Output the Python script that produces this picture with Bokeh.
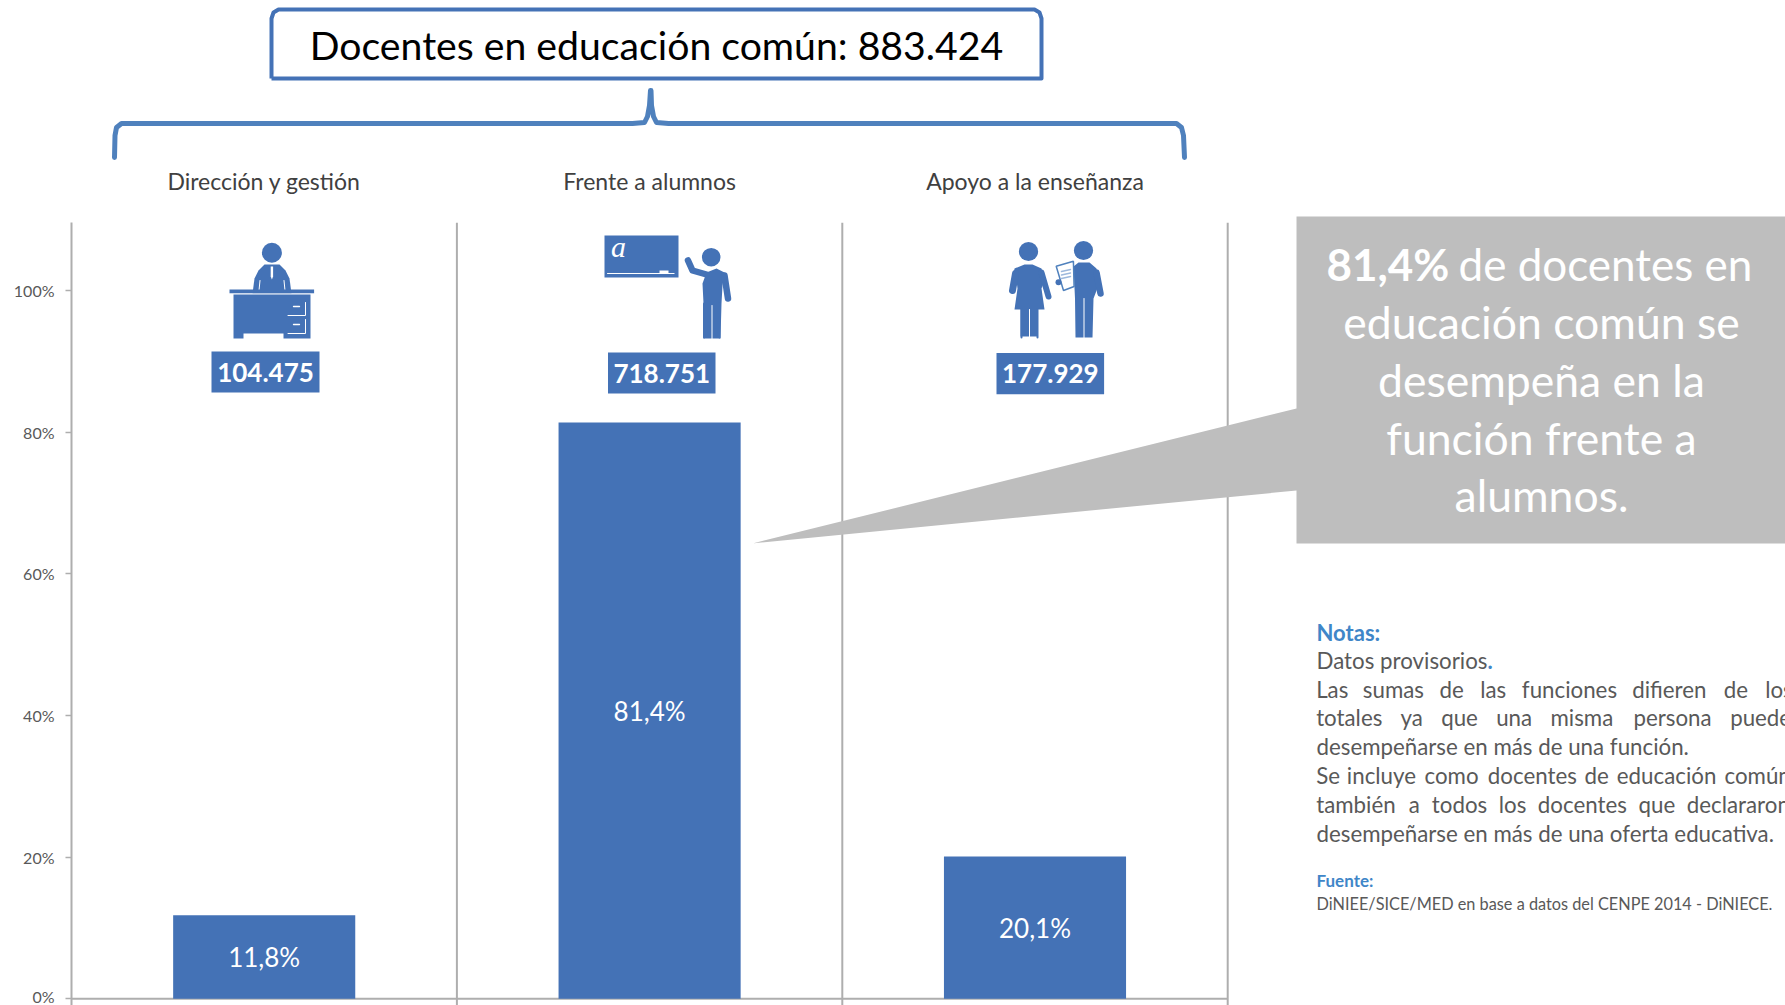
from bokeh.plotting import figure
from bokeh.models import Range1d, FixedTicker
from bokeh.core.properties import value
from bokeh.embed import file_html
from bokeh.resources import INLINE

# ---- chart data ----
categories = ["Dirección y gestión", "Frente a alumnos", "Apoyo a la enseñanza"]
shares = [11.8, 81.4, 20.1]
share_labels = ["11,8%", "81,4%", "20,1%"]
teachers = ["104.475", "718.751", "177.929"]
y_ticks = [0, 20, 40, 60, 80, 100]
y_tick_labels = ["0%", "20%", "40%", "60%", "80%", "100%"]
title_text = "Docentes en educación común: 883.424"
callout_lines = ["educación común se", "desempeña en la", "función frente a", "alumnos."]

FONT = value("Lato")
BLUE = "#4472b6"
BRACE = "#4f81bd"
GREY = "#bebebe"
AXIS = "#aeaeae"
NOTE = "#595959"
HEAD = "#3f86c8"

W, H = 1785, 1005
LEFT = 71
CAT_W = 385.4

p = figure(width=W, height=H, output_backend="svg", toolbar_location=None,
           x_axis_location=None, min_border_left=LEFT, min_border_right=0,
           min_border_top=0, min_border_bottom=0, outline_line_color=None,
           x_range=Range1d(-0.5, -0.5 + (W - LEFT) / CAT_W),
           y_range=Range1d(-0.946, 141.0))
p.grid.visible = False
p.background_fill_color = "white"
p.border_fill_color = "white"

# pixel-based ranges for the page furniture around the chart
p.extra_x_ranges["px"] = Range1d(LEFT, W)
p.extra_y_ranges["px"] = Range1d(H, 0)
PX = dict(x_range_name="px", y_range_name="px")
PY = dict(y_range_name="px")

ax = p.yaxis[0]
ax.ticker = FixedTicker(ticks=y_ticks)
ax.major_label_overrides = {t: l for t, l in zip(y_ticks, y_tick_labels)}
ax.major_label_text_font = "Lato"
ax.major_label_text_font_size = "16px"
ax.major_label_text_color = NOTE
ax.major_label_standoff = 11
ax.major_tick_out = 6
ax.major_tick_in = 0
ax.minor_tick_line_color = None
ax.axis_line_color = AXIS
ax.major_tick_line_color = AXIS
ax.axis_line_width = 2
ax.major_tick_line_width = 1.5
ax.bounds = (-0.946, 109.6)

# category separators + baseline
p.segment([0.5, 1.5, 2.5], [-0.946] * 3, [0.5, 1.5, 2.5], [109.6] * 3, line_color=AXIS, line_width=2)
p.segment([-0.5], [0], [2.5], [0], line_color=AXIS, line_width=2)

# bars
xs = list(range(len(shares)))
p.vbar(x=xs, top=shares, bottom=0, width=0.4725, fill_color=BLUE, line_color=None)
p.text(x=xs, y=[v / 2 for v in shares], text=share_labels, text_color="white", text_font=FONT,
       text_font_size="26px", text_align="center", text_baseline="middle")

# category labels
p.text(x=xs, y=[180] * 3, text=categories, text_color="#404040", text_font=FONT, text_font_size="23px",
       text_align="center", text_baseline="middle", **PY)

# title box
bx = [271, 271, 273, 278, 1034, 1039, 1041, 1041, 271]
by = [78, 18, 12, 9, 9, 12, 18, 78, 78]
p.line(bx, by, line_color=BLUE, line_width=4, line_join="round", **PX)
p.text(x=[656], y=[43.5], text=[title_text], text_color="black", text_font=FONT, text_font_size="39.2px",
       text_align="center", text_baseline="middle", **PX)

# brace
p.line([114, 114.5, 116, 121, 632, 644, 647, 649, 650, 650.5, 651, 653, 656, 668, 1176, 1181, 1183, 1184],
       [157, 135, 127, 123, 123, 122, 116, 105, 90, 90, 105, 116, 122, 123, 123, 127, 135, 157],
       line_color=BRACE, line_width=5, line_join="round", line_cap="round", **PX)

# count boxes
box_l = [211, 607.5, 996]
box_r = [319, 715, 1103.6]
box_t = [351, 352, 352.5]
box_b = [392, 393, 393.7]
p.quad(left=box_l, right=box_r, top=box_t, bottom=box_b, fill_color=BLUE, line_color=None, **PX)
p.text(x=[(a + b) / 2 for a, b in zip(box_l, box_r)], y=[(a + b) / 2 for a, b in zip(box_t, box_b)],
       text=teachers, text_color="white", text_font=FONT, text_font_style="bold", text_font_size="26px",
       text_align="center", text_baseline="middle", **PX)


def head(x, y, r):
    p.ellipse([x], [y], width=2 * r, height=2 * r, fill_color=BLUE, line_color=None, **PX)


def limb(xs_, ys_, w, color=BLUE):
    p.line(xs_, ys_, line_color=color, line_width=w, line_cap="round", line_join="round", **PX)


def shape(xs_, ys_, color=BLUE):
    p.patch(xs_, ys_, fill_color=color, line_color=None, **PX)


# --- desk icon ---
head(271.4, 252.3, 10)
shape([252, 254, 258, 264, 279, 285, 289, 291], [293, 278, 270, 264, 264, 270, 278, 293])
shape([270.2, 272.6, 272.6, 271.4, 270.2], [266, 266, 276, 279, 276], "white")
limb([259.5, 258.5], [280, 290], 1, "white")
limb([283.5, 284.5], [280, 290], 1, "white")
shape([229, 313.6, 313.6, 229], [289, 289, 293, 293])
limb([229, 313.6], [293.4, 293.4], 0.8, "white")
shape([233, 310, 310, 283, 283, 243, 243, 233], [294, 294, 338, 338, 333, 333, 338, 338])
limb([287.5, 305, 305], [315, 315, 302], 1, "white")
limb([287.5, 305, 305], [333, 333, 319], 1, "white")
limb([293, 299], [306, 306], 1.3, "white")
limb([293, 299], [324, 324], 1.3, "white")

# --- teacher icon ---
shape([604, 678, 678, 604], [235, 235, 277, 277])
limb([607, 673.6], [273, 273], 1, "white")
shape([659, 668, 668, 659], [270, 270, 273, 273], "white")
p.text(x=[618], y=[246], text=["a"], text_color="white", text_font=value("Liberation Serif"),
       text_font_style="italic", text_font_size="30px", text_align="center", text_baseline="middle", **PX)
head(710.7, 256.7, 9.3)
shape([702, 706, 716, 724, 722, 721, 720, 703, 703], [283, 272, 268, 272, 285, 303, 338, 338, 303])
limb([711.5, 711.5], [305, 339], 1, "white")
limb([724, 727.5], [275, 298], 6.5)
limb([687.5, 692, 706], [260, 270, 274], 6.5)
limb([703.5, 703.5], [303, 337], 2)
limb([719, 719], [303, 337], 2)

# --- support icon ---
head(1028, 251, 9.6)
shape([1024, 1032, 1041, 1044, 1041, 1044, 1043.6, 1014, 1017, 1016, 1012, 1014],
      [264, 264, 268, 280, 288, 309, 309, 309, 288, 280, 280, 268])
limb([1015, 1012], [273, 290], 7)
limb([1041, 1048], [272, 296], 6)
shape([1020, 1037.5, 1037.5, 1020], [308, 308, 336, 336])
limb([1021, 1021], [309, 337], 2)
limb([1037, 1037], [309, 337], 2)
limb([1029, 1029], [309, 337], 1, "white")
head(1083, 250, 9.6)
shape([1073, 1078, 1089, 1096, 1098, 1093, 1092, 1075, 1074.5], [266, 262, 262, 268, 285, 298, 337, 337, 298])
limb([1083.5, 1083.5], [298, 338], 1, "white")
limb([1096, 1100], [272, 293], 6.5)
p.patch([1055.7, 1072.9, 1073.6, 1063], [265.7, 260.7, 286, 290], fill_color="white", line_color=BRACE, line_width=1.5, **PX)
for yy in (270, 273.5, 277):
    limb([1061, 1070], [yy + 1, yy - 1], 1.5, "#9db8dc")
head(1058, 281.7, 3)

# --- callout ---
p.patch([1296, 1785, 1785, 1296, 1296, 753, 1296, 1296],
        [216, 216, 543, 543, 490, 542.7, 408, 216], fill_color=GREY, line_color=None, **PX)
p.text(x=[1326], y=[263.5], text=["81,4%"], text_color="white", text_font=FONT, text_font_style="bold",
       text_font_size="44px", text_align="left", text_baseline="middle", **PX)
p.text(x=[1458], y=[263.5], text=["de docentes en"], text_color="white", text_font=FONT,
       text_font_size="44px", text_align="left", text_baseline="middle", **PX)
p.text(x=[1541] * 4, y=[321, 379, 436.5, 494], text=callout_lines, text_color="white", text_font=FONT,
       text_font_size="44.5px", text_align="center", text_baseline="middle", **PX)


# --- notes ---
BODY = "22.3px"


def note(x, y, s, size=BODY, color=NOTE, style="normal"):
    p.text(x=[x], y=[y], text=[s], text_color=color, text_font=FONT, text_font_size=size,
           text_font_style=style, text_align="left", text_baseline="middle", **PX)


def just(y, words, zoom_x):
    for w, zx in zip(words, zoom_x):
        note(1289 + zx / 3, y, w)


note(1316, 632, "Notas:", "22px", HEAD, "bold")
note(1316, 660, "Datos provisorios")
note(1487, 660, ".", "22px", HEAD, "bold")
just(689, "Las sumas de las funciones difieren de los".split(), [80, 220, 450, 572, 697, 1028, 1303, 1427])
just(717, "totales ya que una misma persona puede".split(), [80, 333, 455, 620, 783, 1032, 1322])
note(1316, 746, "desempeñarse en más de una función.")
just(775, "Se incluye como docentes de educación común".split(), [80, 172, 405, 595, 885, 982, 1305])
just(804, "también a todos los docentes que declararon".split(), [80, 358, 427, 628, 745, 1047, 1192])
note(1316, 833, "desempeñarse en más de una oferta educativa.")
note(1316, 880, "Fuente:", "17px", HEAD, "bold")
note(1316, 903, "DiNIEE/SICE/MED en base a datos del CENPE 2014 - DiNIECE.", "16.3px")

open("out.html", "w").write(file_html(p, INLINE))
